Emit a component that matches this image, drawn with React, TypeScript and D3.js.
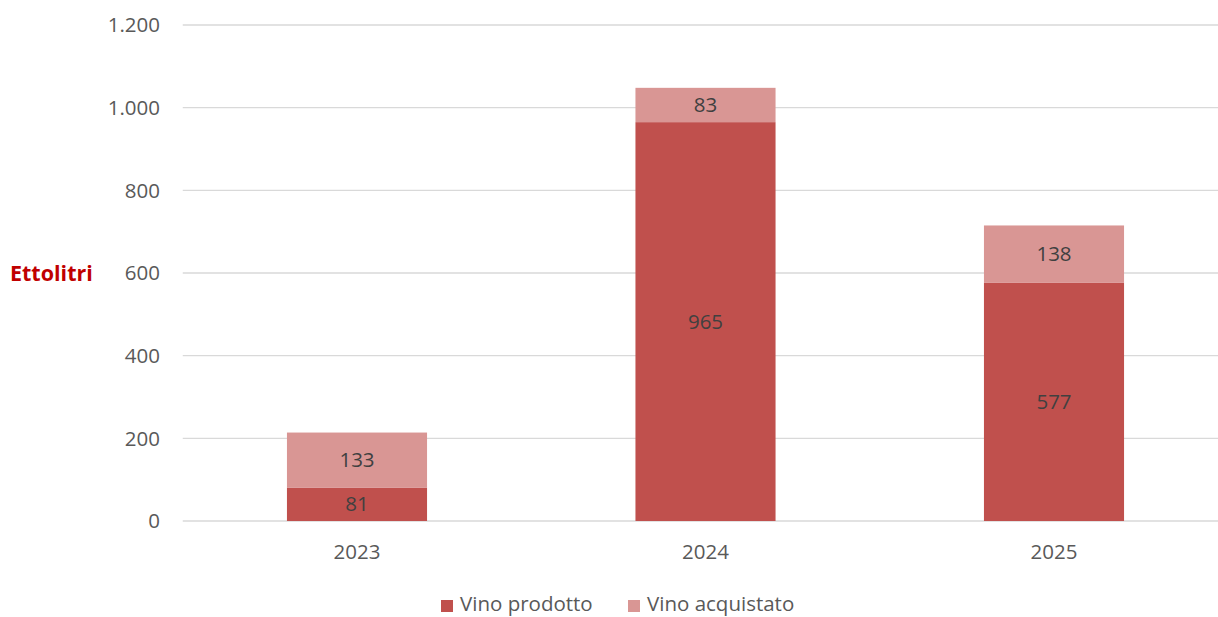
import React from "react";
import * as d3 from "d3";

const years = ["2023", "2024", "2025"];
const vinoProdotto = [81, 965, 577];
const vinoAcquistato = [133, 83, 138];
const yTicks = [0, 200, 400, 600, 800, 1000, 1200];
const seriesNames = ["Vino prodotto", "Vino acquistato"];
const colors = ["#C0504D", "#D99694"];

const W = 1218;
const H = 617;
const FONT = "'Open Sans', 'Noto Sans', sans-serif";
const FS = 20.5;

export default function App() {
  const x = d3.scaleBand<string>().domain(years).range([182.75, 1228.25]).paddingInner(0.598).paddingOuter(0.299);
  const y = d3.scaleLinear().domain([0, 1200]).range([521, 25]);
  const fmt = (v: number) => d3.format(",")(v).replace(/,/g, ".");
  const stacked = years.map((yr, i) => ({
    yr,
    segs: [
      { v: vinoProdotto[i], y0: 0, y1: vinoProdotto[i], c: colors[0] },
      { v: vinoAcquistato[i], y0: vinoProdotto[i], y1: vinoProdotto[i] + vinoAcquistato[i], c: colors[1] },
    ],
  }));
  return (
    <svg width={W} height={H} style={{ position: "absolute", left: 0, top: 0, background: "#fff" }} fontFamily={FONT}>
      {yTicks.map((t) => (
        <g key={t}>
          <line x1={182.75} x2={W} y1={y(t)} y2={y(t)} stroke="#D9D9D9" strokeWidth={1.3} />
          <text x={160} y={y(t)} dy="0.35em" textAnchor="end" fontSize={FS} fill="#595959">{fmt(t)}</text>
        </g>
      ))}
      {stacked.map((d) => (
        <g key={d.yr}>
          {d.segs.map((s, j) => (
            <g key={j}>
              <rect x={x(d.yr)} width={x.bandwidth()} y={y(s.y1)} height={y(s.y0) - y(s.y1)} fill={s.c} />
              <text x={(x(d.yr) as number) + x.bandwidth() / 2} y={(y(s.y0) + y(s.y1)) / 2} dy="0.35em" textAnchor="middle" fontSize={FS} fill="#404040">{fmt(s.v)}</text>
            </g>
          ))}
          <text x={(x(d.yr) as number) + x.bandwidth() / 2} y={552} dy="0.35em" textAnchor="middle" fontSize={FS} fill="#595959">{d.yr}</text>
        </g>
      ))}
      <text x={10} y={273} dy="0.35em" fontSize={FS + 1} fontWeight="bold" fill="#C00000">Ettolitri</text>
      {seriesNames.map((n, i) => {
        const lx = [441, 628][i];
        return (
          <g key={n}>
            <rect x={lx} y={600} width={12} height={12} fill={colors[i]} />
            <text x={lx + 19} y={604} dy="0.35em" fontSize={FS} fill="#595959">{n}</text>
          </g>
        );
      })}
    </svg>
  );
}
